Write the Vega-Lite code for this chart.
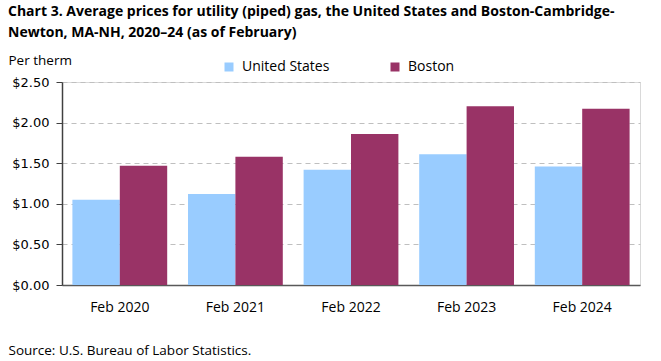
{
  "$schema": "https://vega.github.io/schema/vega-lite/v6.json",
  "autosize": "none",
  "width": 578,
  "height": 203,
  "padding": {"left": 62, "top": 82, "right": 21, "bottom": 76},
  "background": "white",
  "title": {
    "text": ["Chart 3. Average prices for utility (piped) gas,  the United States and Boston-Cambridge-", "Newton, MA-NH, 2020–24 (as  of February)"],
    "anchor": "start",
    "frame": "group",
    "dx": -54,
    "font": "Open Sans",
    "fontSize": 14,
    "fontWeight": "bold",
    "color": "#000000",
    "lineHeight": 21,
    "offset": 13
  },
  "data": {
    "values": [
      {"period": "Feb 2020", "area": "United States", "price": 1.05},
      {"period": "Feb 2020", "area": "Boston", "price": 1.47},
      {"period": "Feb 2021", "area": "United States", "price": 1.12},
      {"period": "Feb 2021", "area": "Boston", "price": 1.58},
      {"period": "Feb 2022", "area": "United States", "price": 1.42},
      {"period": "Feb 2022", "area": "Boston", "price": 1.86},
      {"period": "Feb 2023", "area": "United States", "price": 1.61},
      {"period": "Feb 2023", "area": "Boston", "price": 2.20},
      {"period": "Feb 2024", "area": "United States", "price": 1.46},
      {"period": "Feb 2024", "area": "Boston", "price": 2.17}
    ]
  },
  "mark": {"type": "bar"},
  "encoding": {
    "x": {
      "field": "period",
      "type": "nominal",
      "sort": null,
      "scale": {"paddingInner": 0.18, "paddingOuter": 0.09},
      "axis": {
        "title": "Source: U.S. Bureau of Labor Statistics.",
        "titleX": -54,
        "titleY": 69,
        "titleAlign": "left",
        "titleBaseline": "alphabetic",
        "titleFont": "Open Sans",
        "titleFontSize": 13.5,
        "titleFontWeight": "normal",
        "titleColor": "#000000",
        "labelAngle": 0,
        "labelFont": "Open Sans",
        "labelFontSize": 14,
        "labelColor": "#000000",
        "labelPadding": 15,
        "ticks": false,
        "domainColor": "#595959",
        "domainWidth": 1.5
      }
    },
    "xOffset": {
      "field": "area",
      "type": "nominal",
      "sort": ["United States", "Boston"],
      "scale": {"paddingInner": 0, "paddingOuter": 0}
    },
    "y": {
      "field": "price",
      "type": "quantitative",
      "scale": {"domain": [0, 2.5], "nice": false},
      "axis": {
        "values": [0, 0.5, 1, 1.5, 2, 2.5],
        "format": "$.2f",
        "title": "Per therm",
        "titleAngle": 0,
        "titleX": -54,
        "titleY": -18,
        "titleAlign": "left",
        "titleBaseline": "alphabetic",
        "titleFont": "Open Sans",
        "titleFontSize": 13.5,
        "titleFontWeight": "normal",
        "titleColor": "#000000",
        "labelFont": "DejaVu Sans",
        "labelFontSize": 13,
        "labelColor": "#000000",
        "labelPadding": 7,
        "tickSize": 6,
        "tickColor": "#404040",
        "domainColor": "#404040",
        "domainWidth": 1.5,
        "grid": true,
        "gridColor": "#bfbfbf",
        "gridDash": [5, 4],
        "gridWidth": 1
      }
    },
    "color": {
      "field": "area",
      "type": "nominal",
      "sort": ["United States", "Boston"],
      "scale": {"domain": ["United States", "Boston"], "range": ["#99CCFF", "#993366"]},
      "legend": {
        "title": null,
        "orient": "none",
        "legendX": 160,
        "legendY": -22,
        "direction": "horizontal",
        "columns": 2,
        "columnPadding": 58,
        "padding": 0,
        "symbolType": "square",
        "symbolSize": 81,
        "symbolStrokeWidth": 0,
        "labelFont": "Open Sans",
        "labelFontSize": 14,
        "labelColor": "#000000",
        "labelOffset": 6
      }
    }
  },
  "config": {
    "view": {"stroke": "#d9d9d9", "strokeWidth": 1}
  }
}
